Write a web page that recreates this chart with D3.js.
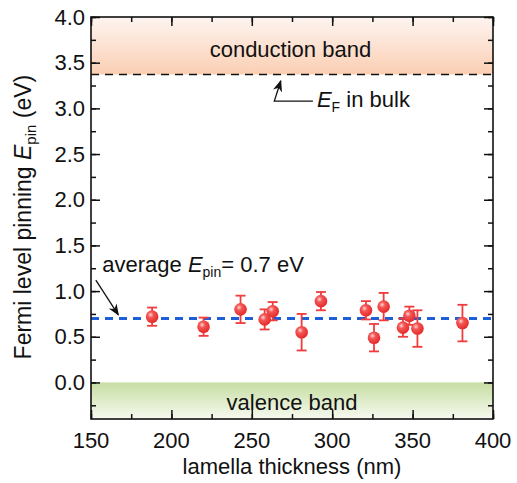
<!DOCTYPE html>
<html>
<head>
<meta charset="utf-8">
<script src="https://cdn.jsdelivr.net/npm/d3@7"></script>
<style>
  body { margin: 0; background: #fff; }
  text { font-family: "Liberation Sans", Arial, sans-serif; fill: #111; }
</style>
</head>
<body>
<svg id="chart" width="517" height="483"></svg>
<script>
// data
const thickness = [188, 220, 243, 258, 263, 281, 293, 321, 326, 332, 344, 348, 353, 381];
const epin      = [0.72, 0.61, 0.80, 0.69, 0.78, 0.55, 0.89, 0.79, 0.49, 0.83, 0.60, 0.73, 0.59, 0.65];
const epinErr   = [0.10, 0.10, 0.15, 0.11, 0.10, 0.20, 0.10, 0.10, 0.15, 0.15, 0.10, 0.10, 0.20, 0.20];
const xTicks = [150, 200, 250, 300, 350, 400];
const yTicks = [0.0, 0.5, 1.0, 1.5, 2.0, 2.5, 3.0, 3.5, 4.0];
const averageEpin = 0.7;
const efBulk = 3.37;
const conductionBand = [3.37, 4.0];
const valenceBand = [-0.4, 0.0];

const svg = d3.select("#chart"),
  margin = { top: 17, right: 24, bottom: 64, left: 91 },
  width = +svg.attr("width") - margin.left - margin.right,
  height = +svg.attr("height") - margin.top - margin.bottom;

const x = d3.scaleLinear().domain([150, 400]).range([0, width]);
const y = d3.scaleLinear().domain([-0.4, 4.0]).range([height, 0]);

const defs = svg.append("defs");
const cbGrad = defs.append("linearGradient").attr("id", "cb").attr("x1", 0).attr("y1", 0).attr("x2", 0).attr("y2", 1);
cbGrad.append("stop").attr("offset", "0%").attr("stop-color", "#fdf4f0");
cbGrad.append("stop").attr("offset", "100%").attr("stop-color", "#fbcfb3");
const vbGrad = defs.append("linearGradient").attr("id", "vb").attr("x1", 0).attr("y1", 0).attr("x2", 0).attr("y2", 1);
vbGrad.append("stop").attr("offset", "0%").attr("stop-color", "#c6dda2");
vbGrad.append("stop").attr("offset", "100%").attr("stop-color", "#f7faf0");
const ball = defs.append("radialGradient").attr("id", "ball").attr("cx", "38%").attr("cy", "35%").attr("r", "65%");
ball.append("stop").attr("offset", "0%").attr("stop-color", "#ffd6d6");
ball.append("stop").attr("offset", "35%").attr("stop-color", "#f45656");
ball.append("stop").attr("offset", "100%").attr("stop-color", "#e52a2a");
defs.append("marker").attr("id", "arrow").attr("viewBox", "0 0 10 10").attr("refX", 9).attr("refY", 5)
  .attr("markerWidth", 9).attr("markerHeight", 9).attr("orient", "auto-start-reverse")
  .append("path").attr("d", "M0,1 L10,5 L0,9 L3,5 Z").attr("fill", "#111");

const g = svg.append("g").attr("transform", `translate(${margin.left},${margin.top})`);

// bands
g.append("rect").attr("x", 0).attr("width", width)
  .attr("y", y(conductionBand[1])).attr("height", y(conductionBand[0]) - y(conductionBand[1]))
  .attr("fill", "url(#cb)");
g.append("rect").attr("x", 0).attr("width", width)
  .attr("y", y(valenceBand[1])).attr("height", y(valenceBand[0]) - y(valenceBand[1]))
  .attr("fill", "url(#vb)");

g.append("text").attr("x", x(274)).attr("y", y(3.65)).attr("dy", "0.35em")
  .attr("text-anchor", "middle").attr("font-size", 22).text("conduction band");
g.append("text").attr("x", x(275)).attr("y", y(-0.22)).attr("dy", "0.35em")
  .attr("text-anchor", "middle").attr("font-size", 22).text("valence band");

// E_F in bulk line
g.append("line").attr("x1", 0).attr("x2", width).attr("y1", y(efBulk)).attr("y2", y(efBulk))
  .attr("stroke", "#111").attr("stroke-width", 1.6).attr("stroke-dasharray", "8,6");

// average line
g.append("line").attr("x1", 0).attr("x2", width).attr("y1", y(averageEpin)).attr("y2", y(averageEpin))
  .attr("stroke", "#1c5fd6").attr("stroke-width", 3).attr("stroke-dasharray", "8,6");

// error bars + points
const pts = thickness.map((t, i) => ({ t: t, v: epin[i], e: epinErr[i] }));
const eb = g.append("g").attr("stroke", "#f03c3c").attr("stroke-width", 1.8);
eb.selectAll("line.v").data(pts).enter().append("line")
  .attr("x1", d => x(d.t)).attr("x2", d => x(d.t))
  .attr("y1", d => y(d.v - d.e)).attr("y2", d => y(d.v + d.e));
eb.selectAll("line.top").data(pts).enter().append("line")
  .attr("x1", d => x(d.t) - 5).attr("x2", d => x(d.t) + 5)
  .attr("y1", d => y(d.v + d.e)).attr("y2", d => y(d.v + d.e));
eb.selectAll("line.bot").data(pts).enter().append("line")
  .attr("x1", d => x(d.t) - 5).attr("x2", d => x(d.t) + 5)
  .attr("y1", d => y(d.v - d.e)).attr("y2", d => y(d.v - d.e));
g.selectAll("circle").data(pts).enter().append("circle")
  .attr("cx", d => x(d.t)).attr("cy", d => y(d.v)).attr("r", 6.3)
  .attr("fill", "url(#ball)");

// annotations
const ef = g.append("text").attr("x", x(290.5)).attr("y", y(3.02)).attr("font-size", 22);
ef.append("tspan").attr("font-style", "italic").text("E");
ef.append("tspan").attr("font-size", 14).attr("dy", 5).text("F");
ef.append("tspan").attr("dy", -5).text(" in bulk");
g.append("path")
  .attr("d", `M${x(288)},${y(3.08)} L${x(264)},${y(3.08)} L${x(268)},${y(3.30)}`)
  .attr("fill", "none").attr("stroke", "#111").attr("stroke-width", 1.3)
  .attr("marker-end", "url(#arrow)");

const av = g.append("text").attr("x", x(157)).attr("y", y(1.21)).attr("font-size", 22);
av.append("tspan").text("average ");
av.append("tspan").attr("font-style", "italic").text("E");
av.append("tspan").attr("font-size", 14).attr("dy", 5).text("pin");
av.append("tspan").attr("dy", -5).text("= 0.7 eV");
g.append("line")
  .attr("x1", x(153)).attr("y1", y(1.12)).attr("x2", x(167)).attr("y2", y(averageEpin + 0.04))
  .attr("stroke", "#111").attr("stroke-width", 1.3).attr("marker-end", "url(#arrow)");

// axes, ticks inward on all sides
const xMinor = d3.range(150, 401, 25), yMinor = d3.range(-0.25, 4.01, 0.25);
g.append("g").attr("transform", `translate(0,${height})`)
  .call(d3.axisTop(x).tickValues(xMinor).tickSize(5).tickFormat(""));
g.append("g").attr("transform", `translate(0,${height})`)
  .call(d3.axisTop(x).tickValues(xTicks).tickSize(9).tickFormat(""));
g.append("g").call(d3.axisBottom(x).tickValues(xMinor).tickSize(5).tickFormat(""));
g.append("g").call(d3.axisBottom(x).tickValues(xTicks).tickSize(9).tickFormat(""));
g.append("g").call(d3.axisRight(y).tickValues(yMinor).tickSize(5).tickFormat(""));
g.append("g").call(d3.axisRight(y).tickValues(yTicks).tickSize(9).tickFormat(""));
g.append("g").attr("transform", `translate(${width},0)`)
  .call(d3.axisLeft(y).tickValues(yMinor).tickSize(5).tickFormat(""));
g.append("g").attr("transform", `translate(${width},0)`)
  .call(d3.axisLeft(y).tickValues(yTicks).tickSize(9).tickFormat(""));
g.selectAll(".domain").remove();
g.selectAll(".tick line").attr("stroke", "#111").attr("stroke-width", 1.5);

g.append("rect").attr("width", width).attr("height", height)
  .attr("fill", "none").attr("stroke", "#111").attr("stroke-width", 1.6);

// tick labels
g.append("g").selectAll("text").data(xTicks).enter().append("text")
  .attr("x", d => x(d)).attr("y", height + 29).attr("text-anchor", "middle")
  .attr("font-size", 22).text(d => d);
g.append("g").selectAll("text").data(yTicks).enter().append("text")
  .attr("x", -6).attr("y", d => y(d)).attr("dy", "0.35em").attr("text-anchor", "end")
  .attr("font-size", 22).text(d => d.toFixed(1));

// axis titles
g.append("text").attr("x", width / 2).attr("y", height + 55).attr("text-anchor", "middle")
  .attr("font-size", 22).text("lamella thickness (nm)");
const yt = g.append("text").attr("transform", `translate(-60,${y(1.81)}) rotate(-90)`)
  .attr("text-anchor", "middle").attr("font-size", 23);
yt.append("tspan").text("Fermi level pinning ");
yt.append("tspan").attr("font-style", "italic").text("E");
yt.append("tspan").attr("font-size", 15).attr("dy", 5).text("pin");
yt.append("tspan").attr("dy", -5).text(" (eV)");
</script>
</body>
</html>
